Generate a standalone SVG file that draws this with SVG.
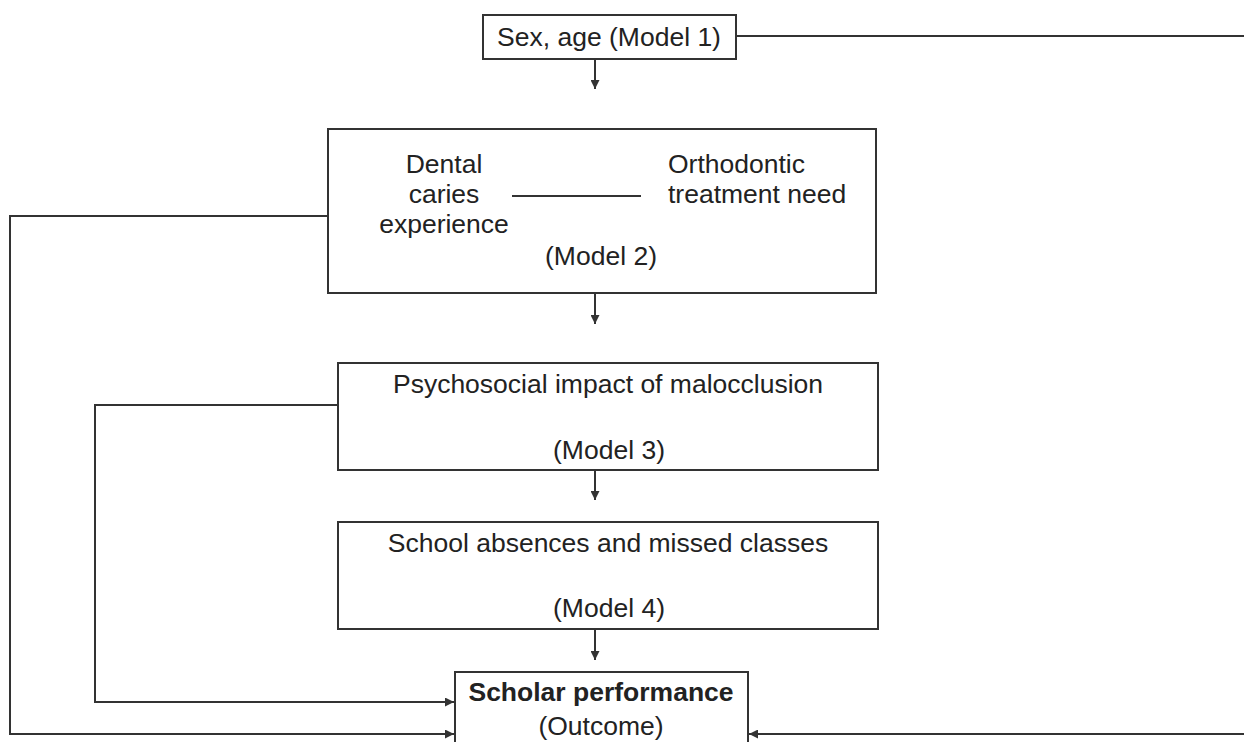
<svg xmlns="http://www.w3.org/2000/svg" width="1244" height="742" viewBox="0 0 1244 742">
<defs>
<style>
.box{fill:#fff;stroke:#333;stroke-width:2}
.ln{fill:none;stroke:#333;stroke-width:2}
.t{font-family:"Liberation Sans",Arial,sans-serif;font-size:26.5px;fill:#222}
.c{text-anchor:middle}
.b{font-weight:bold}
</style>
<marker id="ah" viewBox="0 0 10 10" refX="10" refY="5" markerWidth="4.5" markerHeight="4.5" orient="auto" markerUnits="strokeWidth">
<path d="M0,0 L10,5 L0,10 z" fill="#333"/>
</marker>
</defs>
<rect width="1244" height="742" fill="#fff"/>
<g id="connectors">
<path class="ln" d="M736,36 H1244"/>
<path class="ln" d="M595,59 V89" marker-end="url(#ah)"/>
<path class="ln" d="M595,293 V324" marker-end="url(#ah)"/>
<path class="ln" d="M595,470 V500" marker-end="url(#ah)"/>
<path class="ln" d="M595,629 V660" marker-end="url(#ah)"/>
<path class="ln" d="M328,216 H10 V734 H454" marker-end="url(#ah)"/>
<path class="ln" d="M338,405 H95 V702 H454" marker-end="url(#ah)"/>
<path class="ln" d="M1244,734 H749" marker-end="url(#ah)"/>
</g>
<g id="n1">
<rect class="box" x="483" y="15" width="253" height="44"/>
<text class="t c" x="609" y="46">Sex, age (Model 1)</text>
</g>
<g id="n2">
<rect class="box" x="328" y="129" width="548" height="164"/>
<text class="t c" x="444" y="173">Dental</text>
<text class="t c" x="444" y="203">caries</text>
<text class="t c" x="444" y="233">experience</text>
<path class="ln" d="M512,196 H641"/>
<text class="t" x="668" y="173">Orthodontic</text>
<text class="t" x="668" y="203">treatment need</text>
<text class="t c" x="601" y="265">(Model 2)</text>
</g>
<g id="n3">
<rect class="box" x="338" y="363" width="540" height="107"/>
<text class="t c" x="608" y="393">Psychosocial impact of malocclusion</text>
<text class="t c" x="609" y="459">(Model 3)</text>
</g>
<g id="n4">
<rect class="box" x="338" y="522" width="540" height="107"/>
<text class="t c" x="608" y="552">School absences and missed classes</text>
<text class="t c" x="609" y="617">(Model 4)</text>
</g>
<g id="n5">
<path class="box" d="M455,745 V672 H748 V745"/>
<text class="t c b" x="601" y="701">Scholar performance</text>
<text class="t c" x="601" y="735">(Outcome)</text>
</g>
</svg>
